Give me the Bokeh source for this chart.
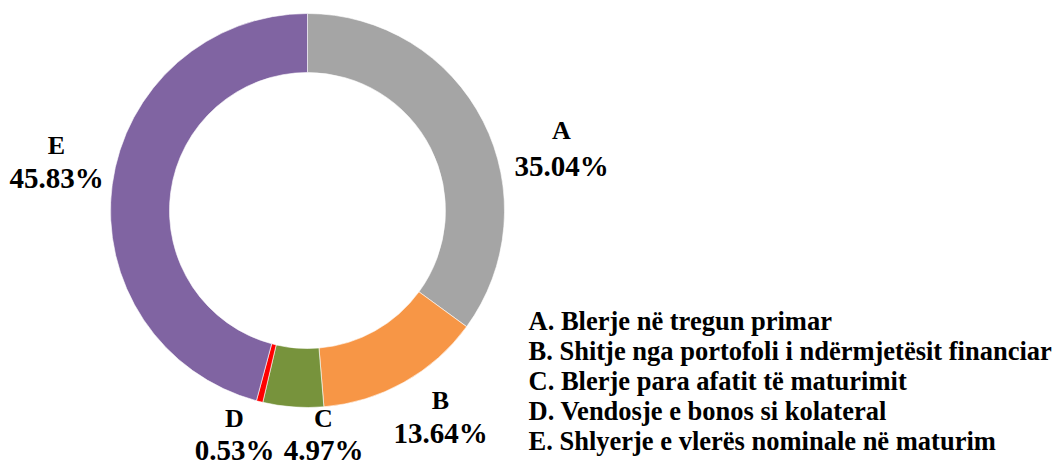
import math
from bokeh.plotting import figure
from bokeh.models import Range1d, ColumnDataSource
from bokeh.core.properties import value
from bokeh.embed import file_html
from bokeh.resources import INLINE

# ---- data ----
categories = ["A", "B", "C", "D", "E"]
shares = [35.04, 13.64, 4.97, 0.53, 45.83]
legend_labels = [
    "A. Blerje në tregun primar",
    "B. Shitje nga portofoli i ndërmjetësit financiar",
    "C. Blerje para afatit të maturimit",
    "D. Vendosje e bonos si kolateral",
    "E. Shlyerje e vlerës nominale në maturim",
]
colors = ["#A5A5A5", "#F79646", "#77933C", "#FF0000", "#8064A2"]

# ---- layout (screen pixels; data y = 464 - screen y) ----
W, H = 1058, 464
def sy(y):
    return 464 - y

cx, cy = 307, sy(210)
r_out, r_in = 197, 138
# label anchors (centre x, baseline of letter line, baseline of percent line)
lab_x = [561, 440, 323, 234, 56]
lab_y1 = [130, 400, 418, 418, 145]
lab_y2 = [165, 432, 449, 449, 177]
leg_x = 528
leg_y = [320, 350, 380, 410, 440]

font = value("Liberation Serif")

p = figure(width=W, height=H, x_range=Range1d(0, W), y_range=Range1d(sy(H), sy(0)),
           output_backend="svg", toolbar_location=None, min_border=0)
p.axis.visible = False
p.grid.visible = False
p.outline_line_color = None
p.background_fill_color = "white"
p.border_fill_color = "white"

total = sum(shares)
starts, ends = [], []
cum = 0.0
for v in shares:
    starts.append(math.pi / 2 - 2 * math.pi * cum / total)
    cum += v
    ends.append(math.pi / 2 - 2 * math.pi * cum / total)

src = ColumnDataSource(dict(start=starts, end=ends, color=colors,
                            x=[cx] * 5, y=[cy] * 5))
p.annular_wedge(x="x", y="y", inner_radius=r_in, outer_radius=r_out,
                start_angle="start", end_angle="end", direction="clock",
                fill_color="color", line_color="white", line_width=0.6, source=src)

pct = [f"{v:.2f}%" for v in shares]
p.text(x=lab_x, y=[sy(v) for v in lab_y1], text=categories, text_font=font,
       text_font_style="bold", text_font_size="26px", text_align="center",
       text_baseline="alphabetic", text_color="black")
p.text(x=lab_x, y=[sy(v) for v in lab_y2], text=pct, text_font=font,
       text_font_style="bold", text_font_size="29px", text_align="center",
       text_baseline="alphabetic", text_color="black")
p.text(x=[leg_x] * 5, y=[sy(v) for v in leg_y], text=legend_labels, text_font=font,
       text_font_style="bold", text_font_size="26.5px", text_align="left",
       text_baseline="alphabetic", text_color="black")

open("out.html", "w").write(file_html(p, INLINE))
